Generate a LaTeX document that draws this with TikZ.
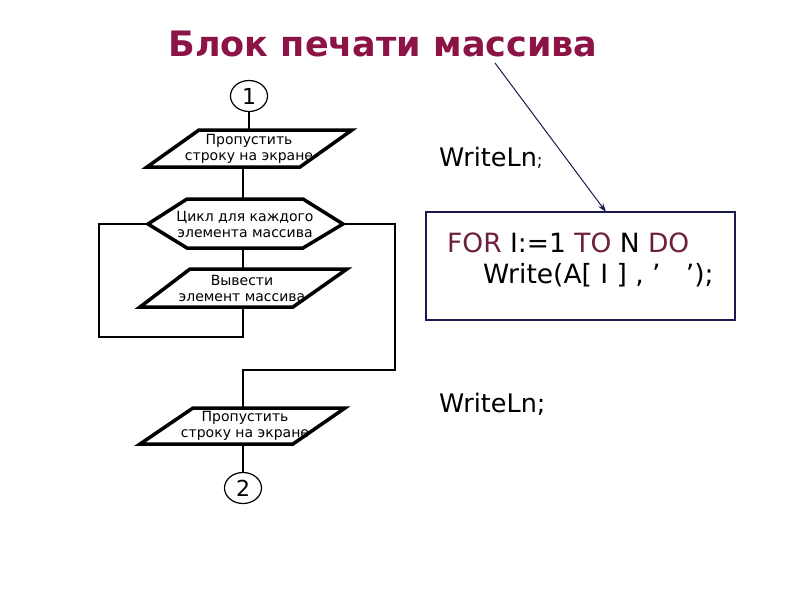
\documentclass[tikz,border=0pt]{standalone}
\usepackage{fontspec}
\setmainfont{DejaVu Sans}
\usetikzlibrary{arrows.meta,shapes.geometric}
\definecolor{titlered}{HTML}{8B1346}
\definecolor{kw}{HTML}{6E1F3F}
\definecolor{navy}{HTML}{1A1A4E}
\begin{document}
\begin{tikzpicture}[x=1pt,y=-1pt,
  shapeline/.style={line width=3.5pt, line join=miter},
  conn/.style={line width=2pt},
  fctext/.style={font=\fontsize{14}{16}\selectfont, align=center, inner sep=0pt},
  conncircle/.style={draw, ellipse, line width=1.2pt, minimum width=37pt, minimum height=31pt, inner sep=0pt, font=\fontsize{22}{26}\selectfont},
  codetext/.style={anchor=base west, font=\fontsize{26.5}{30}\selectfont}]
\useasboundingbox (0,0) rectangle (800,600);
\fill[white] (0,0) rectangle (800,600);

% title
\node[anchor=base, text=titlered, font=\bfseries\fontsize{35}{40}\selectfont, inner sep=0pt] (title) at (383,56) {Блок печати массива};

% connector 1
\node[conncircle] (c1) at (249,96) {1};

% parallelogram 1
\draw[shapeline] (199,130) -- (352,130) -- (300,167) -- (147,167) -- cycle;
\node[fctext] (p1) at (249,149) {Пропустить\\строку на экране};
\coordinate (p1top) at (249,130);
\coordinate (p1bot) at (243,167);

% hexagon
\draw[shapeline] (148,224) -- (187,199) -- (303,199) -- (343,224) -- (303,248) -- (187,248) -- cycle;
\node[fctext] (hx) at (245,224) {Цикл для каждого\\элемента массива};
\coordinate (hxtop) at (243,199);
\coordinate (hxbot) at (243,248);
\coordinate (hxleft) at (148,224);
\coordinate (hxright) at (343,224);

% parallelogram 2
\draw[shapeline] (190,269) -- (347,269) -- (293,307) -- (140,307) -- cycle;
\node[fctext] (p2) at (242,288) {Вывести\\элемент массива};
\coordinate (p2top) at (243,269);
\coordinate (p2bot) at (243,307);

% parallelogram 3
\draw[shapeline] (193,408) -- (345,408) -- (293,444) -- (140,444) -- cycle;
\node[fctext] (p3) at (245,426) {Пропустить\\строку на экране};
\coordinate (p3top) at (243,408);
\coordinate (p3bot) at (243,444);

% connector 2
\node[conncircle] (c2) at (243,488) {2};

% connectors
\draw[conn] (c1.south) -- (p1top);
\draw[conn] (p1bot) -- (hxtop);
\draw[conn] (hxbot) -- (p2top);
\draw[conn] (hxleft) -- (99,224) -- (99,337) -- (243,337) -- (p2bot);
\draw[conn] (hxright) -- (395,224) -- (395,370) -- (243,370) -- (p3top);
\draw[conn] (p3bot) -- (c2.north);

% code
\node[anchor=base west, font=\fontsize{25.5}{30}\selectfont, inner sep=0pt] (w1) at (439,166) {WriteLn{\fontsize{17}{20}\selectfont;}};
\node[draw=navy, line width=1.5pt, minimum width=309pt, minimum height=108pt, inner sep=0pt] (box) at (580.5,266) {};
\node[codetext, inner sep=0pt] (code1) at (447,252) {\textcolor{kw}{FOR} I:=1 \textcolor{kw}{TO} N \textcolor{kw}{DO}};
\node[codetext, inner sep=0pt] (code2) at (483,283) {Write(A[ I ] , ’\ \ \ ’);};
\node[anchor=base west, font=\fontsize{25.5}{30}\selectfont, inner sep=0pt] (w2) at (439,412) {WriteLn;};

% arrow
\coordinate (arrstart) at (495,63);
\coordinate (arrend) at (606,212);
\draw[navy, line width=1pt, -{Stealth[length=9pt,width=6pt]}] (arrstart) -- (arrend);
\end{tikzpicture}
\end{document}
